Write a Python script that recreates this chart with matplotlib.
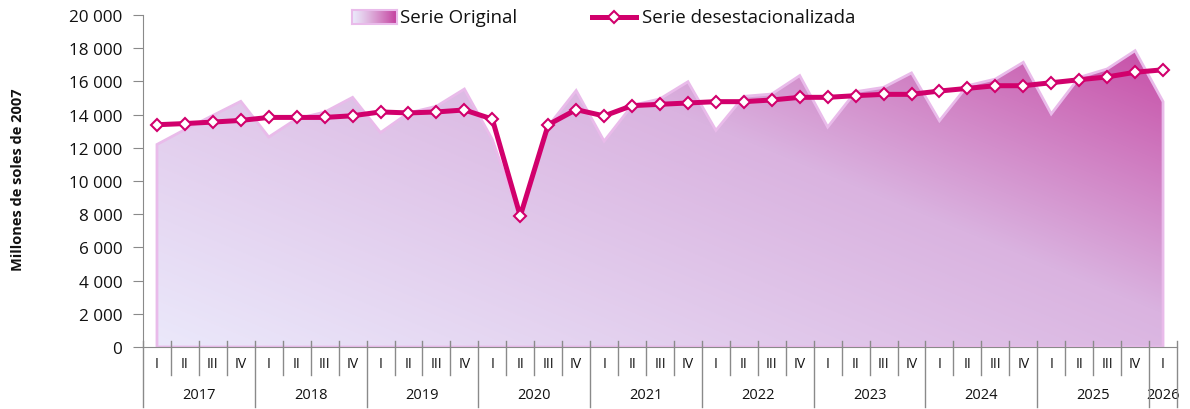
import numpy as np
import matplotlib
matplotlib.use("Agg")
import matplotlib.pyplot as plt
from matplotlib.patches import Polygon
from matplotlib.lines import Line2D
from matplotlib.colors import to_rgb
import matplotlib.transforms as mtransforms

plt.rcParams['font.family'] = ['Open Sans', 'DejaVu Sans']

# ---- data (millones de soles de 2007) ----
years = ["2017", "2018", "2019", "2020", "2021", "2022", "2023", "2024", "2025", "2026"]
quarters = ["I", "II", "III", "IV"]

serie_original = [
    12200, 13100, 13950, 14800,   # 2017
    12650, 13750, 14150, 15040,   # 2018
    12920, 14100, 14500, 15540,   # 2019
    12500, 7700, 13300, 15450,    # 2020
    12400, 14550, 14950, 15980,   # 2021
    13050, 15100, 15240, 16350,   # 2022
    13250, 15380, 15640, 16510,   # 2023
    13630, 15740, 16140, 17150,   # 2024
    14040, 16240, 16750, 17850,   # 2025
    14780,                        # 2026
]

serie_desest = [
    13390, 13460, 13550, 13650,   # 2017
    13830, 13830, 13830, 13930,   # 2018
    14160, 14100, 14160, 14280,   # 2019
    13730, 7890, 13390, 14300,    # 2020
    13920, 14540, 14620, 14700,   # 2021
    14780, 14780, 14880, 15040,   # 2022
    15040, 15140, 15220, 15220,   # 2023
    15420, 15580, 15740, 15740,   # 2024
    15920, 16100, 16270, 16550,   # 2025
    16700,                        # 2026
]

yticks = list(range(0, 20001, 2000))

n = len(serie_original)
x = np.arange(n)
q_labels = [quarters[i % 4] for i in range(n)]

# ---- figure ----
W, H = 1190, 410
fig = plt.figure(figsize=(W / 100, H / 100), dpi=100)
ax_left, ax_right, ax_top, ax_bot = 143, 1177, 16, 348
ax = fig.add_axes([ax_left / W, 1 - ax_bot / H, (ax_right - ax_left) / W, (ax_bot - ax_top) / H])

ax.set_xlim(-0.5, n - 0.5)
ax.set_ylim(0, 20000)

# gradient fill for the original series
c0 = np.array(to_rgb("#ebe9fb"))
c1 = np.array(to_rgb("#dab3e0"))
c2 = np.array(to_rgb("#c43f9e"))
gx, gy = np.meshgrid(np.linspace(0, 1, 400), np.linspace(0, 1, 200))
t = np.clip(0.62 * gx + 0.48 * gy, 0, 1.1) / 1.1
grad = np.where(t[..., None] < 0.6,
                c0 + (c1 - c0) * (t[..., None] / 0.6),
                c1 + (c2 - c1) * ((t[..., None] - 0.6) / 0.4))
im = ax.imshow(grad, extent=[-0.5, n - 0.5, 0, 20000], origin="lower",
               aspect="auto", zorder=1, interpolation="bilinear")
verts = [(x[0], 0)] + list(zip(x, serie_original)) + [(x[-1], 0)]
area = Polygon(verts, closed=True, facecolor="none", edgecolor="#e9bbea",
               linewidth=2.0, zorder=2)
ax.add_patch(area)
im.set_clip_path(area)

# seasonally adjusted series
line_color = "#d1006c"
ax.plot(x, serie_desest, color=line_color, linewidth=3.6, zorder=4,
        marker="D", markersize=6, markerfacecolor="white",
        markeredgecolor=line_color, markeredgewidth=1.5)

# ---- axes styling ----
axis_gray = "#8a8a8a"
for s in ["top", "right"]:
    ax.spines[s].set_visible(False)
ax.spines["left"].set_color(axis_gray)
ax.spines["bottom"].set_color(axis_gray)
ax.set_yticks(yticks)
ax.set_yticklabels([f"{v:,}".replace(",", " ") for v in yticks], fontsize=12.3, color="#111111")
ax.tick_params(axis="y", direction="out", length=7, color=axis_gray, pad=8)
ax.set_xticks([])

# multi-level category axis
trans = mtransforms.blended_transform_factory(ax.transData, ax.transAxes)
px = 1.0 / (ax_bot - ax_top)
for i in range(n + 1):
    xb = i - 0.5
    if i % 4 == 0 or i == n:
        y_end = -60 * px
    else:
        y_end = -28 * px
    ax.add_line(Line2D([xb, xb], [6 * px, y_end], transform=trans, color=axis_gray,
                       linewidth=1.0, clip_on=False, zorder=5))
for i in range(n):
    ax.text(x[i], -17 * px, q_labels[i], transform=trans, ha="center", va="center",
            fontsize=10, color="#111111")
for k, yr in enumerate(years):
    idx = [i for i in range(4 * k, min(4 * k + 4, n))]
    xc = np.mean(idx)
    ax.text(xc, -48 * px, yr, transform=trans, ha="center", va="center",
            fontsize=10.5, color="#111111")

fig.text(18 / W, 1 - 180 / H, "Millones de soles de 2007", rotation=90,
         ha="center", va="center", fontsize=10.5, fontweight="bold", color="#111111")

# ---- legend ----
lg_ax = fig.add_axes([352 / W, 1 - 25 / H, 45 / W, 14 / H])
lg_grad = np.linspace(0, 1, 100)[None, :, None]
lg_img = c0 + (c2 - c0) * lg_grad ** 1.2
lg_ax.imshow(np.repeat(lg_img, 10, axis=0), aspect="auto", origin="lower")
lg_ax.set_xticks([])
lg_ax.set_yticks([])
for s in lg_ax.spines.values():
    s.set_color("#e9bbea")
    s.set_linewidth(1.5)
fig.text(400 / W, 1 - 18 / H, "Serie Original", ha="left", va="center",
         fontsize=13.5, color="#111111")

ly = 1 - 18 / H
fig.add_artist(Line2D([592 / W, 636 / W], [ly, ly], transform=fig.transFigure,
                      color=line_color, linewidth=3.6))
fig.add_artist(Line2D([614 / W], [ly], transform=fig.transFigure, marker="D",
                      markersize=6, markerfacecolor="white", markeredgecolor=line_color,
                      markeredgewidth=1.5, linestyle="none"))
fig.text(642 / W, ly, "Serie desestacionalizada", ha="left", va="center",
         fontsize=13.5, color="#111111")

fig.savefig("out.png", dpi=100)
